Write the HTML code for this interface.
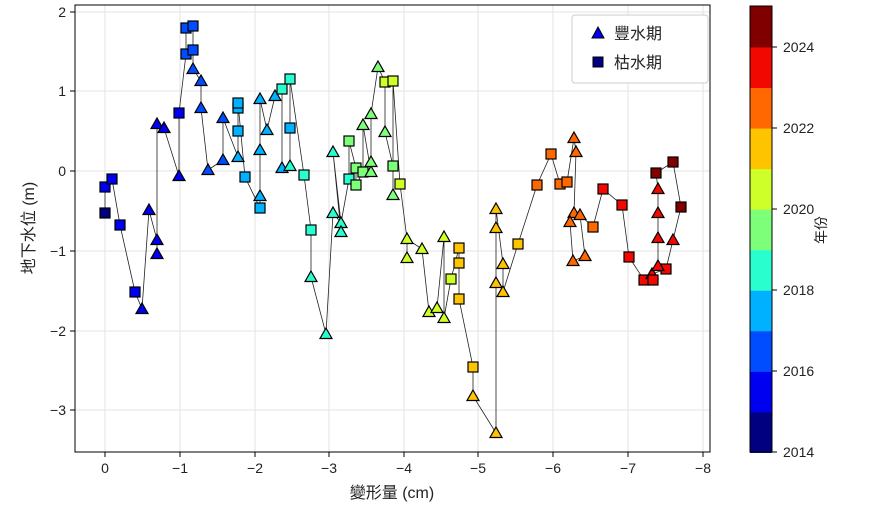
<!DOCTYPE html>
<html><head><meta charset="utf-8"><style>
body{margin:0;background:#fff;width:885px;height:520px;overflow:hidden}
text{font-family:"Liberation Sans","Noto Sans CJK TC",sans-serif;fill:#222}
</style></head><body>
<svg width="885" height="520" xmlns="http://www.w3.org/2000/svg">
<g stroke="#e3e3e3" stroke-width="1">
<line x1="105" y1="5" x2="105" y2="452"/><line x1="180" y1="5" x2="180" y2="452"/><line x1="255" y1="5" x2="255" y2="452"/><line x1="329" y1="5" x2="329" y2="452"/><line x1="404" y1="5" x2="404" y2="452"/><line x1="478" y1="5" x2="478" y2="452"/><line x1="553" y1="5" x2="553" y2="452"/><line x1="628" y1="5" x2="628" y2="452"/><line x1="703" y1="5" x2="703" y2="452"/>
<line x1="75" y1="12" x2="710" y2="12"/><line x1="75" y1="91" x2="710" y2="91"/><line x1="75" y1="171" x2="710" y2="171"/><line x1="75" y1="251" x2="710" y2="251"/><line x1="75" y1="331" x2="710" y2="331"/><line x1="75" y1="410" x2="710" y2="410"/>
</g>
<polyline fill="none" stroke="#222" stroke-width="0.8" points="105,213 105,187 112,179 120,225 135,292 142,309 149,210 157,240 157,254 157,124 164,128 179,176 179,113 186,54 186,28 193,26 193,50 193,69 201,81 201,108 208,170 223,160 223,118 238,157 238,131 238,108 238,103 245,177 260,208 260,196 260,150 260,99 267,130 275,96 282,89 282,168 290,166 290,128 290,79 304,175 311,230 311,277 326,334 333,213 341,223 341,232 333,152 341,223 349,179 349,141 356,168 356,185 363,172 363,125 371,172 371,162 371,114 378,67 385,82 385,132 393,166 393,195 393,81 400,184 407,239 407,258 407,239 422,249 429,312 437,308 444,237 444,318 451,279 459,248 459,263 459,299 473,367 473,396 496,433 496,283 496,228 496,209 503,264 503,292 518,244 537,185 551,154 560,184 567,182 574,138 576,152 574,213 570,222 573,261 585,256 580,215 593,227 603,189 622,205 629,257 644,280 653,280 652,274 666,269 658,266 658,238 658,213 658,189 656,173 673,162 681,207 673,240 666,269"/>
<g stroke="#000" stroke-width="1.2" id="pts"></g>
<rect x="75" y="5" width="635" height="447" fill="none" stroke="#000" stroke-width="1"/>
<g stroke="#000"><line x1="105" y1="452" x2="105" y2="457"/><line x1="180" y1="452" x2="180" y2="457"/><line x1="255" y1="452" x2="255" y2="457"/><line x1="329" y1="452" x2="329" y2="457"/><line x1="404" y1="452" x2="404" y2="457"/><line x1="478" y1="452" x2="478" y2="457"/><line x1="553" y1="452" x2="553" y2="457"/><line x1="628" y1="452" x2="628" y2="457"/><line x1="703" y1="452" x2="703" y2="457"/>
<line x1="70" y1="12" x2="75" y2="12"/><line x1="70" y1="91" x2="75" y2="91"/><line x1="70" y1="171" x2="75" y2="171"/><line x1="70" y1="251" x2="75" y2="251"/><line x1="70" y1="331" x2="75" y2="331"/><line x1="70" y1="410" x2="75" y2="410"/></g>
<g font-size="14" text-anchor="middle">
<text x="105" y="473">0</text><text x="180" y="473">−1</text><text x="255" y="473">−2</text><text x="329" y="473">−3</text><text x="404" y="473">−4</text><text x="478" y="473">−5</text><text x="553" y="473">−6</text><text x="628" y="473">−7</text><text x="703" y="473">−8</text></g>
<g font-size="14" text-anchor="end">
<text x="66" y="17">2</text><text x="66" y="96">1</text><text x="66" y="176">0</text><text x="66" y="256">−1</text><text x="66" y="336">−2</text><text x="66" y="415">−3</text></g>
<text x="392" y="498" font-size="16" text-anchor="middle">變形量 (cm)</text>
<text transform="translate(34,228) rotate(-90)" font-size="16" text-anchor="middle">地下水位 (m)</text>
<rect x="572" y="15" width="136" height="68" fill="#fff" stroke="#ccc" rx="3"/>
<polygon points="598,27 604,38 592,38" fill="#0000f1" stroke="#000"/>
<rect x="593" y="57" width="10" height="10" fill="#000080" stroke="#000"/>
<text x="614" y="39" font-size="16">豐水期</text>
<text x="614" y="68" font-size="16">枯水期</text>
<g id="cb"></g>
<rect x="750" y="6" width="22" height="446" fill="none" stroke="#000"/>
<g stroke="#000"><line x1="772" y1="47" x2="777" y2="47"/><line x1="772" y1="128" x2="777" y2="128"/><line x1="772" y1="209" x2="777" y2="209"/><line x1="772" y1="290" x2="777" y2="290"/><line x1="772" y1="371" x2="777" y2="371"/><line x1="772" y1="452" x2="777" y2="452"/></g>
<g font-size="14"><text x="783" y="52">2024</text><text x="783" y="133">2022</text><text x="783" y="214">2020</text><text x="783" y="295">2018</text><text x="783" y="376">2016</text><text x="783" y="457">2014</text></g>
<text transform="translate(826,230) rotate(-90)" font-size="14" text-anchor="middle">年份</text>
</svg>
<script>
var C=["#000080","#0000f1","#004dff","#00b1ff","#29ffce","#7dff7a","#ceff29","#ffc400","#ff6800","#f10800","#800000"];
var cb=document.getElementById("cb"),ns="http://www.w3.org/2000/svg";
for(var i=0;i<11;i++){var r=document.createElementNS(ns,"rect");r.setAttribute("x",750);r.setAttribute("y",452-(i+1)*40.55);r.setAttribute("width",22);r.setAttribute("height",41.5);r.setAttribute("fill",C[i]);cb.appendChild(r);}
// [x,y,type(t/s),colorIndex]
var P=[[105,213,"s",0],[105,187,"s",1],[112,179,"s",1],[120,225,"s",1],[135,292,"s",1],[142,309,"t",1],[149,210,"t",1],[157,240,"t",1],[157,254,"t",1],[157,124,"t",1],[164,128,"t",1],[179,176,"t",1],[179,113,"s",1],
[186,54,"s",2],[186,28,"s",2],[193,26,"s",2],[193,50,"s",2],[193,69,"t",2],[201,81,"t",2],[201,108,"t",2],[208,170,"t",2],[223,160,"t",2],[223,118,"t",2],
[238,157,"t",3],[238,131,"s",3],[238,108,"s",3],[238,103,"s",3],[245,177,"s",3],[260,208,"s",3],[260,196,"t",3],[260,150,"t",3],[260,99,"t",3],[267,130,"t",3],[275,96,"t",3],
[282,89,"s",4],[282,168,"t",3],[290,166,"t",4],[290,128,"s",3],[290,79,"s",4],[304,175,"s",4],[311,230,"s",4],[311,277,"t",4],[326,334,"t",4],[333,213,"t",4],[341,223,"t",4],[341,232,"t",4],[333,152,"t",4],[349,179,"s",4],
[349,141,"s",5],[356,168,"s",5],[356,185,"s",5],[363,172,"s",5],[363,125,"t",5],[371,172,"t",5],[371,162,"t",5],[371,114,"t",5],[378,67,"t",5],[385,132,"t",5],[393,195,"t",5],[393,166,"s",5],
[385,82,"s",6],[393,81,"s",6],[400,184,"s",6],[407,239,"t",6],[407,258,"t",6],[422,249,"t",6],[429,312,"t",6],[437,308,"t",6],[444,318,"t",6],[444,237,"t",6],[451,279,"s",6],
[459,248,"s",7],[459,263,"s",7],[459,299,"s",7],[473,367,"s",7],[473,396,"t",7],[496,433,"t",7],[496,283,"t",7],[496,228,"t",7],[496,209,"t",7],[503,264,"t",7],[503,292,"t",7],[518,244,"s",7],
[537,185,"s",8],[551,154,"s",8],[560,184,"s",8],[567,182,"s",8],[574,138,"t",8],[576,152,"t",8],[574,213,"t",8],[570,222,"t",8],[580,215,"t",8],[573,261,"t",8],[585,256,"t",8],[593,227,"s",8],
[603,189,"s",9],[622,205,"s",9],[629,257,"s",9],[644,280,"s",9],[652,274,"t",9],[653,280,"s",9],[666,269,"s",9],[658,266,"t",9],[658,238,"t",9],[658,213,"t",9],[658,189,"t",9],[673,240,"t",9],
[656,173,"s",10],[673,162,"s",10],[681,207,"s",10]];
var g=document.getElementById("pts");
P.forEach(function(p){var e;if(p[2]=="s"){e=document.createElementNS(ns,"rect");e.setAttribute("x",p[0]-5);e.setAttribute("y",p[1]-5);e.setAttribute("width",10);e.setAttribute("height",10);}else{e=document.createElementNS(ns,"polygon");e.setAttribute("points",p[0]+","+(p[1]-6)+" "+(p[0]+6)+","+(p[1]+4.5)+" "+(p[0]-6)+","+(p[1]+4.5));}e.setAttribute("fill",C[p[3]]);g.appendChild(e);});
</script>
</body></html>
